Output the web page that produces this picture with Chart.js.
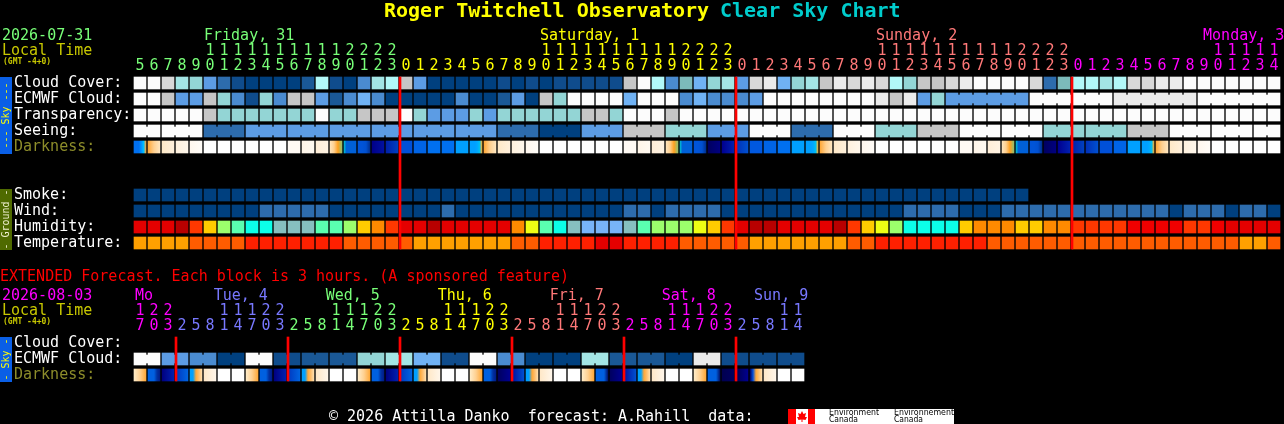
<!DOCTYPE html>
<html>
<head>
<meta charset="utf-8">
<title>Roger Twitchell Observatory Clear Sky Chart</title>
<script src="https://cdn.jsdelivr.net/npm/chart.js@4"></script>
<style>
  html, body { margin: 0; background: #000; overflow: hidden; }
  canvas { display: block; }
</style>
</head>
<body>
<canvas id="forecast" width="1284" height="260"></canvas>
<canvas id="extended" width="1284" height="164"></canvas>
<script>
// shades used by the sky rows, 0 = clear navy ... 14 = white overcast
const skyColors = ['#00407f','#0f4c8c','#1a5896','#2d6cad','#4a8bd0','#5c9ce4','#70b2f4','#7cbaba',
                   '#93d5d5','#a3e5e5','#b2f8f8','#c6c6c6','#d8d8d8','#ebebeb','#fcfcfc'];
const humidityColors = ['#b80000','#e40000','#f00000','#ff3800','#ff8a00','#ffcc00','#eeff14','#9cff6c',
                        '#5affb0','#0cffe8','#86c0c0','#78b4f8'];
const temperatureColors = ['#ffa000','#ff5c00','#ff2000','#e40000'];

// 48 hour forecast, one value per hour column
const hours = ['5','6','7','8','9','10','11','12','13','14','15','16','17','18','19','20','21','22','23',
  '0','1','2','3','4','5','6','7','8','9','10','11','12','13','14','15','16','17','18','19','20','21','22','23',
  '0','1','2','3','4','5','6','7','8','9','10','11','12','13','14','15','16','17','18','19','20','21','22','23',
  '0','1','2','3','4','5','6','7','8','9','10','11','12','13','14'];
const cloudCover = [14,14,12,9,8,5,3,1,0,0,0,0,2,10,1,0,4,9,10,11,5,
  0,0,0,0,0,1,0,1,0,1,1,1,1,1,11,14,10,4,7,6,8,9,5,12,13,6,8,9,11,13,
  12,13,12,10,8,11,11,12,13,14,14,14,14,12,3,7,10,10,9,10,12,12,13,13,14,14,14,14,14,14,14];
const ecmwfCloud = [14,14,11,5,5,11,8,4,1,8,4,11,11,5,2,4,6,4,0,0,0,
  0,0,4,0,0,2,5,0,11,8,14,14,14,14,6,14,14,14,4,6,4,4,4,5,14,14,14,14,14,14,
  14,14,13,11,13,5,8,5,5,5,5,5,5,14,14,14,14,14,14,13,13,13,13,13,13,14,14,14,14,14,14];
const transparency = [14,14,14,14,14,11,8,8,8,8,8,8,8,14,8,8,11,11,11,14,8,
  5,5,5,8,5,8,8,8,8,8,8,11,11,8,14,14,14,11,14,14,14,14,14,14,14,14,14,14,14,14,
  14,14,14,14,14,14,14,14,14,14,14,14,14,14,14,14,14,14,14,14,14,14,14,14,14,14,14,14,14,14,14];
const seeing = [14,14,14,14,14,3,3,3,5,5,5,5,5,5,5,5,5,5,5,5,5,5,5,5,5,5,3,3,3,0,0,0,5,5,5,
  11,11,11,8,8,8,5,5,5,14,14,14,3,3,3,14,14,14,8,8,8,11,11,11,14,14,14,14,14,14,8,8,8,8,8,8,
  11,11,11,14,14,14,14,14,14,14,14];
const smoke = [0,0,0,0,0,0,0,0,0,0,0,0,0,0,0,0,0,0,0,0,0,0,0,0,0,0,0,0,0,0,0,0,0,0,0,0,0,0,0,0,0,0,
  0,0,0,0,0,0,0,0,0,0,0,0,0,0,0,0,0,0,0,0,0,0];
const wind = [0,0,0,0,0,0,0,0,0,3,3,3,3,3,0,0,0,0,0,0,0,0,3,0,0,0,0,0,0,0,0,0,0,0,0,3,3,0,3,3,3,3,
  0,0,0,0,0,0,0,0,0,0,0,0,0,3,3,3,3,0,0,0,3,3,3,3,3,3,3,3,3,3,3,3,0,3,3,3,0,3,3,0];
const humidity = [1,1,1,0,3,5,7,8,9,9,10,10,10,8,8,7,5,4,3,1,1,0,1,1,1,1,1,4,6,8,9,10,11,11,11,10,8,7,7,7,6,5,
  3,1,0,0,1,1,1,1,0,3,5,6,7,9,9,9,9,5,4,4,4,5,5,4,4,3,3,3,3,2,2,2,2,3,3,2,1,1,1,1];
const temperature = [0,0,0,0,1,1,1,1,2,2,2,2,2,2,2,1,1,1,1,1,0,0,0,0,0,0,0,1,1,2,2,2,2,3,3,2,2,2,2,1,1,1,1,1,
  0,0,0,0,0,0,0,1,1,2,2,2,2,2,2,2,2,1,1,1,1,1,1,1,1,1,1,1,1,1,1,1,1,1,1,0,0,1];

// darkness cells fade across the cell, so each shade is a list of colours
const darkShades = {
  w: ['#ffffff'], fa: ['#fffaf4'], fb: ['#fff5e8','#fff9f1'], fc: ['#ffeed8','#fff3e3'],
  rise: ['#ffa838','#ffd090','#ffe6c0'], up2: ['#ffe9c8','#fff0dc'], up3: ['#fff1de','#fff7ec'], up4: ['#fff7ee','#fffcf8'],
  set: ['#ffe4bc','#ffd090','#ffa020','#90c070'],
  dawnA: ['#0070f0','#0070f0','#0070f0','#0090ff','#00c0ff','#ffa838'],
  dawnB: ['#00a0ff','#00a0ff','#00a0ff','#00a8ff','#00c0f0','#ffb030'],
  dusk: ['#00c0d0','#0060d8','#0060d8','#0060d8','#0060d8','#0060d8'],
  fall: ['#0054d8','#0054d8','#0050d0','#003090'],
  deepA: ['#000088','#0010a0'], deepB: ['#000060','#000080'], deepC: ['#000090','#0020b0'],
  climbA: ['#0020a8','#0040c0'], climbB: ['#0030b8','#0050d0'],
  b1: ['#0050d8'], b2: ['#0058e0'], b3: ['#0064e6'], b4: ['#0070f0'], sky: ['#00a0ff'],
  xSet: ['#ffecc8','#ffd090','#ffa838'], xFall: ['#0060e0','#0060e0','#0060e0','#0030a0','#001c88'],
  xDeep: ['#000080','#0020b0'], xClimb: ['#0038c0','#0064e0'], xDawn: ['#00a0ff','#00a0ff','#ffa838','#ffc070','#ffe0b0'],
  xCream: ['#ffe8c8','#fff6ea'], yFall: ['#0060e0','#0060e0','#0060e0','#001068'], yDeep: ['#000060','#000090'],
  yClimb: ['#0010a0','#0050d0'], zDeep: ['#000050','#000060'], zClimb: ['#000050','#000090'], zDawn: ['#000060','#0050e0','#ffa838','#ffc070','#ffe0b0']
};
const darkness = ['dawnA','rise','up2','up3','up4','w','w','w','w','w','w','fa','fb','fc','set','dusk','fall','deepA','climbA','b1','b3',
  'b4','b4','sky','dawnB','rise','up2','up3','up4','w','w','w','w','w','w','fa','fb','fc','set','dusk','fall','deepB','deepC','climbB','b2','b3','b4','sky','dawnB','rise','up2',
  'up3','up4','w','w','w','w','w','w','fa','fb','fc','set','dusk','fall','deepB','deepC','climbA','climbB','b1','b3','sky','dawnB','rise','up2','up3','up4','w','w','w','w','w'];

const rowLabels = ['Cloud Cover:','ECMWF Cloud:','Transparency:','Seeing:','Darkness:','','','Smoke:','Wind:','Humidity:','Temperature:'];
const seeingBlocks = [0,2,5,8,11,14,17,20,23,26,29,32,35,38,41,44,47,50,53,56,59,62,65,68,71,74,77,80];
const ecmwfBlocks = [58,64,70,76];
const midnights = [19,43,67];
const dayColumns = [0,19,43,67];
const dayColors = ['#78ff78','#ffff00','#ff7878','#ff00ff'];
const dayNames = ['Friday, 31','Saturday, 1','Sunday, 2','Monday, 3'];
const dayNameColumns = [5,29,53,76.36];

// extended forecast, each column is 3 hours
const extHours = ['17','20','23','2','5','8','11','14','17','20','23','2','5','8','11','14','17','20','23',
  '2','5','8','11','14','17','20','23','2','5','8','11','14','17','20','23','2','5','8','11','14','17','20','23',
  '2','5','8','11','14'];
const extEcmwf = [14,14,5,5,4,4,0,0,14,14,1,1,2,2,2,2,8,8,9,9,6,6,1,1,14,14,4,4,0,0,0,0,9,9,2,2,2,2,0,0,13,13,1,1,1,1,1,1];
const extDarkness = ['xSet','xFall','xDeep','xClimb','xDawn','xCream','w','w','xSet','xFall','xDeep','xClimb','xDawn','xCream','w','w',
  'xSet','xFall','xDeep','xClimb','xDawn','xCream','w','w','xSet','xFall','yDeep','yClimb','xDawn','xCream','w','w',
  'xSet','yFall','yDeep','yClimb','xDawn','xCream','w','w','xSet','yFall','zDeep','zClimb','zDawn','xCream','w','w'];
const extRowLabels = ['Cloud Cover:','ECMWF Cloud:','Darkness:'];
const extBlocks = [0,2,4,6,8,10,12,14,16,18,20,22,24,26,28,30,32,34,36,38,40,42,44,46];
const extMidnights = [3,11,19,27,35,43];
const extDayColumns = [0,3,11,19,27,35,43];
const extDayColors = ['#ff00ff','#7878ff','#78ff78','#ffff00','#ff7878','#ff00ff','#7878ff'];
const extDayNames = ['Mo','Tue, 4','Wed, 5','Thu, 6','Fri, 7','Sat, 8','Sun, 9'];
const extDayNameColumns = [0.07,5.69,13.69,21.69,29.69,37.69,44.29];

const MONO = '"DejaVu Sans Mono", monospace';
const OLIVE = '#8c8c2a';

function cellRow(row, values, colorOf) {
  return {
    data: values.map((v, col) => ({x: col, y: [row - 0.375, row + 0.375], v: v})),
    backgroundColor: ctx => colorOf(ctx.raw ? ctx.raw.v : 0, ctx),
    barThickness: 12
  };
}

function levelRow(row, values, colors) {
  return cellRow(row, values, v => colors[v]);
}

function darkRow(row, values) {
  return cellRow(row, values, (name, ctx) => {
    const stops = darkShades[name] || darkShades.w;
    if (stops.length === 1 || !ctx.raw) return stops[0];
    const mid = ctx.chart.scales.x.getPixelForValue(ctx.raw.x);
    // scale has no size yet on the first pass
    if (!Number.isFinite(mid)) return stops[0];
    const g = ctx.chart.ctx.createLinearGradient(mid - 6, 0, mid + 6, 0);
    stops.forEach((c, k) => g.addColorStop(k / (stops.length - 1), c));
    return g;
  });
}

// the seeing style rows are joined inside a block by a narrower piece
function bridges(row, values, starts, colors, firstCol) {
  const data = [], fill = [];
  values.forEach((v, col) => {
    if (col < firstCol || col === values.length - 1 || starts.includes(col + 1)) return;
    data.push({x: col + 0.5, y: [row - 0.25, row + 0.25]});
    fill.push(colors[v]);
  });
  return {data: data, backgroundColor: fill, barThickness: 2};
}

function redLines(cols, lastRow) {
  return {
    data: cols.map(c => ({x: c - 0.5 + 1 / 14, y: [-0.375, lastRow + 0.375]})),
    backgroundColor: '#ff0000',
    barThickness: 2,
    order: -1
  };
}

function text(ctx, str, x, y, color, font) {
  ctx.font = font || '15px ' + MONO;
  ctx.fillStyle = color;
  ctx.textAlign = 'left';
  ctx.textBaseline = 'middle';
  ctx.fillText(str, x, y);
}

function sideBand(chart, first, last, color, label, textColor) {
  const y = chart.scales.y;
  const top = y.getPixelForValue(first) - 6, bottom = y.getPixelForValue(last) + 7;
  const ctx = chart.ctx;
  ctx.fillStyle = color;
  ctx.fillRect(0, top, 12, bottom - top);
  ctx.save();
  ctx.translate(6, (top + bottom) / 2);
  ctx.rotate(-Math.PI / 2);
  ctx.font = '10px ' + MONO;
  ctx.textAlign = 'center';
  ctx.textBaseline = 'middle';
  ctx.fillStyle = textColor;
  ctx.fillText(label, 0, 0);
  ctx.restore();
}

function headerText(chart, date, dateColor, names, nameCols, colors) {
  const ctx = chart.ctx, x = chart.scales.x;
  text(ctx, date, 2, 36, dateColor);
  text(ctx, 'Local Time', 2, 51, '#c8c800');
  text(ctx, '(GMT -4+0)', 3, 62, '#c8c800', 'bold 8px ' + MONO);
  names.forEach((n, i) => text(ctx, n, x.getPixelForValue(nameCols[i]) - 6, 36, colors[i]));
}

function drawLogo(ctx) {
  ctx.fillStyle = '#ffffff';
  ctx.fillRect(788, 149, 166, 15);
  ctx.fillStyle = '#ff0000';
  ctx.fillRect(788, 149, 8, 15);
  ctx.fillRect(808, 149, 7, 15);
  // maple leaf
  const leaf = [[802,151],[803.5,154],[806,153],[805,157],[807,157],[805.5,160],[802.5,159.5],[802.5,162],[801.5,162],[801.5,159.5],[798.5,160],[797,157],[799,157],[798,153],[800.5,154]];
  ctx.beginPath();
  leaf.forEach((p, i) => i ? ctx.lineTo(p[0], p[1]) : ctx.moveTo(p[0], p[1]));
  ctx.closePath();
  ctx.fill();
  ctx.font = '9px "DejaVu Sans", sans-serif';
  ctx.fillStyle = '#000000';
  ctx.textBaseline = 'middle';
  ctx.textAlign = 'left';
  ctx.fillText('Environment', 829, 153, 50);
  ctx.fillText('Canada', 829, 160, 29);
  ctx.fillText('Environnement', 894, 153, 60);
  ctx.fillText('Canada', 894, 160, 29);
}

function baseOptions(hourList, columns, colors, labels, lastRow, bottomPad) {
  return {
    responsive: false,
    animation: false,
    devicePixelRatio: 1,
    events: [],
    layout: {padding: {left: 14, right: 3, top: 0, bottom: bottomPad}},
    plugins: {legend: {display: false}, tooltip: {enabled: false}, title: {display: false}},
    datasets: {bar: {grouped: false, borderWidth: 0}},
    scales: {
      x: {
        type: 'linear',
        position: 'top',
        offset: false,
        min: -0.5,
        max: 81.5,
        grid: {display: false, drawTicks: false},
        border: {display: false},
        afterBuildTicks: s => { s.ticks = hourList.map((h, i) => ({value: i})); },
        // the plot edges have to stay on the pixel grid of the cells
        afterFit: s => { s.height = 75; s.paddingLeft = 0; s.paddingRight = 0; },
        ticks: {
          autoSkip: false,
          maxRotation: 0,
          padding: 1,
          font: {family: MONO, size: 15, lineHeight: '15px'},
          color: c => {
            let day = 0;
            columns.forEach((start, d) => { if (c.index >= start) day = d; });
            return colors[day];
          },
          callback: (v, i) => hourList[i].length > 1 ? hourList[i].split('') : hourList[i]
        }
      },
      y: {
        type: 'linear',
        reverse: true,
        min: -0.5,
        max: lastRow + 0.5,
        grid: {display: false, drawTicks: false},
        border: {display: false},
        afterBuildTicks: s => { s.ticks = labels.map((l, i) => ({value: i})); },
        afterFit: s => { s.width = 119; s.paddingTop = 0; s.paddingBottom = 0; },
        ticks: {
          autoSkip: false,
          crossAlign: 'far',
          padding: 0,
          font: {family: MONO, size: 15},
          color: c => labels[c.index] === 'Darkness:' ? OLIVE : '#ffffff',
          callback: (v, i) => labels[i]
        }
      }
    }
  };
}

const forecastDatasets = [
  redLines(midnights, 10),
  levelRow(0, cloudCover, skyColors),
  levelRow(1, ecmwfCloud, skyColors),
  bridges(1, ecmwfCloud, ecmwfBlocks, skyColors, 58),
  levelRow(2, transparency, skyColors),
  levelRow(3, seeing, skyColors),
  bridges(3, seeing, seeingBlocks, skyColors, 0),
  darkRow(4, darkness),
  levelRow(7, smoke, skyColors),
  levelRow(8, wind, skyColors),
  levelRow(9, humidity, humidityColors),
  levelRow(10, temperature, temperatureColors)
];

new Chart(document.getElementById('forecast'), {
  type: 'bar',
  data: {datasets: forecastDatasets},
  options: baseOptions(hours, dayColumns, dayColors, rowLabels, 10, 9),
  plugins: [{
    id: 'forecastText',
    afterDraw(chart) {
      const ctx = chart.ctx;
      text(ctx, 'Roger Twitchell Observatory', 384, 12, '#ffff00', 'bold 20px ' + MONO);
      text(ctx, 'Clear Sky Chart', 720, 12, '#00cccc', 'bold 20px ' + MONO);
      headerText(chart, '2026-07-31', '#78ff78', dayNames, dayNameColumns, dayColors);
      sideBand(chart, 0, 4, '#0a5fe6', '--- Sky ---', '#ffff00');
      sideBand(chart, 7, 10, '#4f6a00', '- Ground -', '#f0f0d0');
    }
  }]
});

const extendedDatasets = [
  redLines(extMidnights, 2),
  levelRow(1, extEcmwf, skyColors),
  bridges(1, extEcmwf, extBlocks, skyColors, 0),
  darkRow(2, extDarkness)
];

new Chart(document.getElementById('extended'), {
  type: 'bar',
  data: {datasets: extendedDatasets},
  options: baseOptions(extHours, extDayColumns, extDayColors, extRowLabels, 2, 41),
  plugins: [{
    id: 'extendedText',
    afterDraw(chart) {
      const ctx = chart.ctx;
      text(ctx, 'EXTENDED Forecast. Each block is 3 hours. (A sponsored feature)', 0, 17, '#ff0000');
      headerText(chart, '2026-08-03', '#ff00ff', extDayNames, extDayNameColumns, extDayColors);
      sideBand(chart, 0, 2, '#0a5fe6', '- Sky -', '#ffff00');
      text(ctx, '\u00a9 2026 Attilla Danko  forecast: A.Rahill  data:', 329, 157, '#ffffff');
      drawLogo(ctx);
    }
  }]
});
</script>
</body>
</html>
